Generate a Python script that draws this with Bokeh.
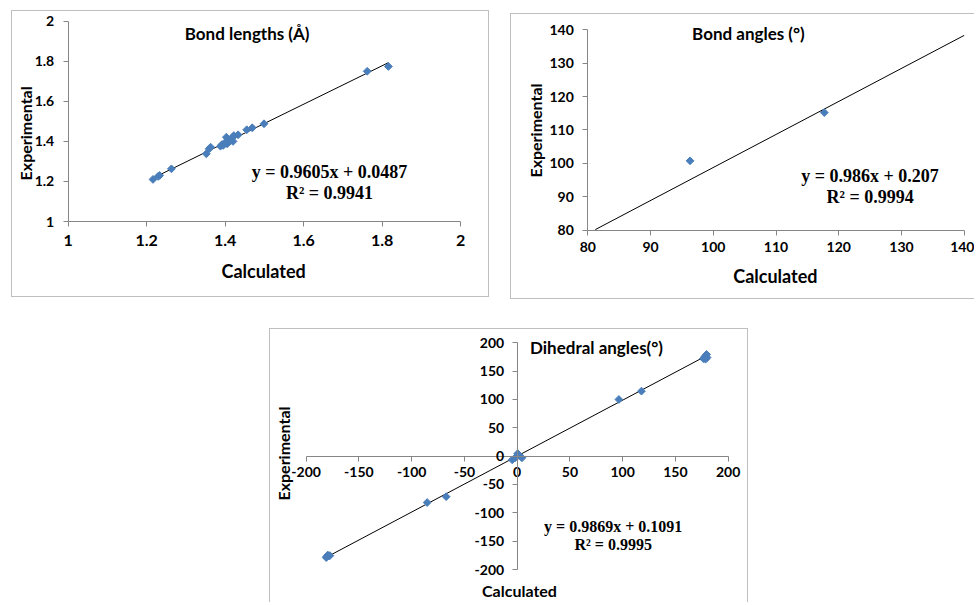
import numpy as np
from bokeh.plotting import figure
from bokeh.models import Range1d, FixedTicker, Label, LinearAxis, Spacer
from bokeh.layouts import row, column
from bokeh.embed import file_html
from bokeh.resources import INLINE

# ---------------- data ----------------
# Bond lengths (Å)
bl_calc = [1.216, 1.229, 1.233, 1.263, 1.352, 1.359, 1.363, 1.388, 1.392, 1.395,
           1.398, 1.403, 1.405, 1.408, 1.410, 1.414, 1.415, 1.418, 1.420, 1.422,
           1.433, 1.455, 1.469, 1.499, 1.762, 1.816]
bl_exp = [1.210, 1.225, 1.230, 1.263, 1.338, 1.363, 1.371, 1.376, 1.384, 1.380,
          1.391, 1.421, 1.388, 1.396, 1.400, 1.404, 1.410, 1.418, 1.400, 1.429,
          1.433, 1.458, 1.468, 1.488, 1.750, 1.774]
bl_slope, bl_intercept = 0.9605, 0.0487
bl_equation = "y = 0.9605x + 0.0487"
bl_r2 = "R² = 0.9941"
bl_ticks = [1, 1.2, 1.4, 1.6, 1.8, 2]
bl_tick_labels = ["1", "1.2", "1.4", "1.6", "1.8", "2"]

# Bond angles (°)
ba_calc = [96.3, 117.7]
ba_exp = [100.8, 115.2]
ba_slope, ba_intercept = 0.986, 0.207
ba_trend_x = [81.2, 140]
ba_equation = "y = 0.986x + 0.207"
ba_r2 = "R² = 0.9994"
ba_ticks = [80, 90, 100, 110, 120, 130, 140]
ba_tick_labels = ["80", "90", "100", "110", "120", "130", "140"]

# Dihedral angles (°)
da_calc = [-180.5, -179.5, -178.5, -181.0, -177.5, -85.3, -67.3, -4.7, -2.0, 0.5,
           1.5, 0.0, 4.5, 96.4, 117.8, 176.5, 178.0, 179.5, 180.0, 178.5]
da_exp = [-177.0, -174.5, -176.0, -179.0, -175.5, -81.8, -71.5, -6.5, -3.0, 4.5,
          1.5, 0.0, -3.0, 100.0, 114.7, 172.0, 176.0, 179.5, 174.0, 171.0]
da_slope, da_intercept = 0.9869, 0.1091
da_equation = "y = 0.9869x + 0.1091"
da_r2 = "R² = 0.9995"
da_ticks = [-200, -150, -100, -50, 0, 50, 100, 150, 200]
da_tick_labels = ["-200", "-150", "-100", "-50", "0", "50", "100", "150", "200"]

x_title = "Calculated"
y_title = "Experimental"

# ---------------- style ----------------
MARK = "#4A7EBB"
AXC = "#868686"
BORDER = "1px solid #BFBFBF"
SANS = "Lato"
SERIF = "Liberation Serif"


def make_axis(loc, ticks, labels, tick_size, standoff):
    ax = LinearAxis(fixed_location=loc, ticker=FixedTicker(ticks=ticks),
                    bounds=(min(ticks), max(ticks)))
    ax.major_label_overrides = dict(zip(ticks, labels))
    ax.axis_line_color = AXC
    ax.major_tick_line_color = AXC
    ax.minor_tick_line_color = None
    ax.major_tick_in = 0
    ax.major_tick_out = 5
    ax.major_label_text_font = SANS
    ax.major_label_text_font_style = "bold"
    ax.major_label_text_color = "black"
    ax.major_label_text_font_size = tick_size
    ax.major_label_standoff = standoff
    return ax


def base_fig(w, h, xr, yr):
    p = figure(width=w, height=h, x_range=xr, y_range=yr, output_backend="svg",
               toolbar_location=None, x_axis_location=None, y_axis_location=None,
               min_border=0)
    p.grid.visible = False
    p.outline_line_color = None
    p.background_fill_color = "white"
    p.border_fill_color = "white"
    return p


def txt(p, x, y, text, font, size, angle=0.0):
    p.add_layout(Label(x=x, y=y, text=text, text_font=font, text_font_style="bold",
                       text_font_size=size, text_color="black", text_align="center",
                       text_baseline="middle", angle=angle))


def marks(p, xs, ys, slope, intercept, trend_x):
    tx = np.array(trend_x, dtype=float)
    p.line(tx, slope * tx + intercept, line_color="black", line_width=1)
    p.scatter(xs, ys, marker="square", angle=np.pi / 4, size=5.5,
              fill_color=MARK, line_color=MARK)


# ---------------- panel 1 : bond lengths ----------------
p1 = base_fig(478, 287, Range1d(0.858, 2.0762), Range1d(0.6156, 2.0484))
p1.styles = {"border": BORDER}
p1.add_layout(make_axis(1, bl_ticks, bl_tick_labels, "16px", 8), "below")
p1.add_layout(make_axis(1, bl_ticks, bl_tick_labels, "14px", 9), "left")
marks(p1, bl_calc, bl_exp, bl_slope, bl_intercept, [min(bl_calc), max(bl_calc)])
txt(p1, 1.456, 1.939, "Bond lengths (Å)", SANS, "17px")
txt(p1, 0.891, 1.44, y_title, SANS, "16px", angle=np.pi / 2)
txt(p1, 1.498, 0.755, x_title, SANS, "18px")
txt(p1, 1.666, 1.245, bl_equation, SERIF, "18px")
txt(p1, 1.666, 1.140, bl_r2, SERIF, "18px")

# ---------------- panel 2 : bond angles ----------------
p2 = base_fig(464, 286, Range1d(67.837, 141.80), Range1d(59.10, 144.48))
p2.styles = {"border-left": BORDER, "border-top": BORDER, "border-bottom": BORDER}
p2.add_layout(make_axis(80, ba_ticks, ba_tick_labels, "14px", 7), "below")
p2.add_layout(make_axis(80, ba_ticks, ba_tick_labels, "14px", 9), "left")
marks(p2, ba_calc, ba_exp, ba_slope, ba_intercept, ba_trend_x)
txt(p2, 105.6, 138.8, "Bond angles (°)", SANS, "17px")
txt(p2, 71.6, 109.85, y_title, SANS, "16px", angle=np.pi / 2)
txt(p2, 109.9, 66.3, x_title, SANS, "18px")
txt(p2, 125.0, 96.4, ba_equation, SERIF, "18px")
txt(p2, 125.0, 90.1, ba_r2, SERIF, "18px")

# ---------------- panel 3 : dihedral angles ----------------
p3 = base_fig(479, 274, Range1d(-233.8, 220.2), Range1d(-259.97, 223.45))
p3.styles = {"border-left": BORDER, "border-top": BORDER, "border-right": BORDER}
p3.add_layout(make_axis(0, da_ticks, da_tick_labels, "14px", 6), "below")
p3.add_layout(make_axis(0, da_ticks, da_tick_labels, "14px", 8), "left")
marks(p3, da_calc, da_exp, da_slope, da_intercept, [min(da_calc), max(da_calc)])
txt(p3, 75.2, 191.2, "Dihedral angles(°)", SANS, "17px")
txt(p3, 91, -124.6, da_equation, SERIF, "16px")
txt(p3, 91, -155.9, da_r2, SERIF, "16px")
txt(p3, -221.5, 4.7, y_title, SANS, "16px", angle=np.pi / 2)
txt(p3, 2.2, -236.5, x_title, SANS, "16px")

# ---------------- layout ----------------
top = row(Spacer(width=11), column(Spacer(height=10), p1), Spacer(width=21),
          column(Spacer(height=13), p2))
bottom = row(Spacer(width=269), p3)
layout = column(top, Spacer(height=29), bottom)

open("out.html", "w").write(file_html(layout, INLINE))
